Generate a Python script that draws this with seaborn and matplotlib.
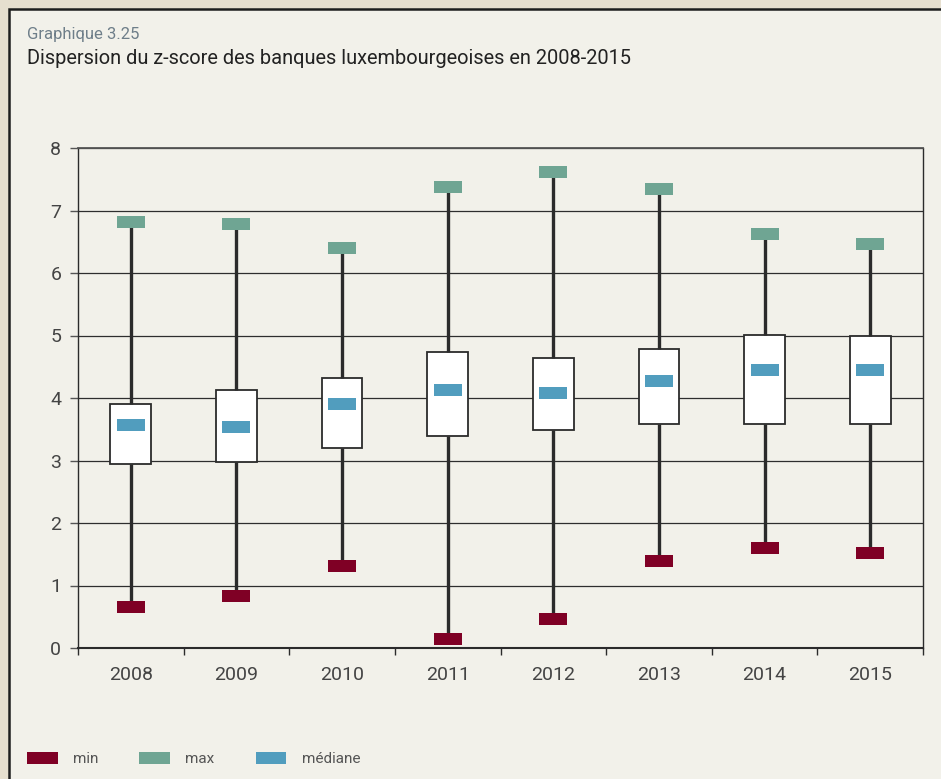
"""
Graphique 3.25 - Dispersion du z-score des banques luxembourgeoises, 2008-2015.
Box = quartiles, rectangles = min / max / mediane.
"""

import numpy as np
import pandas as pd
import matplotlib
matplotlib.use("Agg")
import matplotlib.pyplot as plt
import seaborn as sns
from matplotlib.patches import Patch, Rectangle

# ============================================================
# DATA
# ============================================================
years = ["2008", "2009", "2010", "2011", "2012", "2013", "2014", "2015"]
z_min = [0.66, 0.83, 1.31, 0.14, 0.46, 1.39, 1.60, 1.52]
z_q1 = [2.94, 2.98, 3.20, 3.39, 3.49, 3.58, 3.58, 3.58]
z_median = [3.57, 3.54, 3.90, 4.13, 4.08, 4.27, 4.45, 4.45]
z_q3 = [3.90, 4.13, 4.32, 4.74, 4.64, 4.78, 5.01, 5.00]
z_max = [6.82, 6.78, 6.40, 7.38, 7.62, 7.34, 6.62, 6.46]

legend_labels = ["min", "max", "médiane"]

# ============================================================
# STYLE
# ============================================================
PANEL = "#F2F1EA"
OUTER = "#E6DFCF"
INK = "#2B2B2B"
C_MIN, C_MAX, C_MED = "#7F0025", "#6FA593", "#519DBE"

sns.set_theme(style="ticks")
plt.rcParams["font.family"] = ["Roboto", "DejaVu Sans"]

# five points per year -> percentiles reproduce min / q1 / median / q3 / max exactly
df = pd.DataFrame({
    "year": np.repeat(years, 5),
    "z": np.column_stack([z_min, z_q1, z_median, z_q3, z_max]).ravel(),
})
pts = pd.DataFrame({"year": years, "min": z_min, "max": z_max, "med": z_median})

fig = plt.figure(figsize=(9.41, 7.79), dpi=100)
fig.patch.set_facecolor(OUTER)
fig.add_artist(Rectangle((8.5 / 941, -0.05), 1.1, 1 - 8.5 / 779 + 0.05,
                         transform=fig.transFigure, facecolor=PANEL,
                         edgecolor="#1E1E1E", linewidth=1.8, zorder=0))

ax = fig.add_axes([78 / 941, 1 - 648 / 779, 845 / 941, 500 / 779])
ax.set_facecolor(PANEL)
ax.set_axisbelow(True)
ax.yaxis.grid(True, color="#2E2E2E", linewidth=0.9)

sns.boxplot(data=df, x="year", y="z", order=years, whis=(0, 100), width=0.385,
            showcaps=False, showfliers=False, color="white", linecolor=INK,
            linewidth=1.3, saturation=1,
            whiskerprops=dict(color=INK, linewidth=2.4),
            medianprops=dict(linewidth=0), ax=ax)

# rectangular markers, 28 x 12 px
rect = [(-14, -6), (14, -6), (14, 6), (-14, 6), (-14, -6)]
msize = 28 * 72 / 100
for col, c in [("max", C_MAX), ("min", C_MIN), ("med", C_MED)]:
    sns.stripplot(data=pts, x="year", y=col, order=years, jitter=False,
                  marker=rect, size=msize, color=c, linewidth=0, ax=ax, zorder=5)

ax.set_ylim(0, 8)
ax.set_xlim(-0.5, 7.5)
ax.set_yticks(range(0, 9))
ax.set_xlabel("")
ax.set_ylabel("")
ax.set_xticks(np.arange(-0.5, 8, 1), minor=True)
ax.tick_params(axis="x", which="major", length=0, pad=13, labelsize=14, labelcolor="#444444")
ax.tick_params(axis="x", which="minor", length=5, width=1, color=INK)
ax.tick_params(axis="y", length=6, width=1, color="#555555", pad=6,
               labelsize=14, labelcolor="#444444")
for side in ["left", "right", "bottom"]:
    ax.spines[side].set_visible(True)
    ax.spines[side].set_color(INK)
    ax.spines[side].set_linewidth(1.0)
ax.spines["bottom"].set_linewidth(1.5)
ax.spines["top"].set_visible(True)
ax.spines["top"].set_color("#555555")
ax.spines["top"].set_linewidth(1.3)

# titles
fig.text(27 / 941, 1 - 35 / 779, "Graphique 3.25", fontsize=12, color="#6E7E89",
         va="center", ha="left")
fig.text(27 / 941, 1 - 59 / 779,
         "Dispersion du z-score des banques luxembourgeoises en 2008-2015",
         fontsize=14.4, color="#222222", va="center", ha="left")

handles = [Patch(facecolor=c, edgecolor="none") for c in (C_MIN, C_MAX, C_MED)]
fig.legend(handles, legend_labels, loc="center left",
           bbox_to_anchor=(27 / 941, 1 - 759 / 779), ncol=3, frameon=False,
           fontsize=11, labelcolor="#555555", handlelength=2.0, handleheight=0.8,
           handletextpad=1.0, columnspacing=2.7, borderpad=0, borderaxespad=0)

fig.savefig("out.png", dpi=100, facecolor=fig.get_facecolor())
